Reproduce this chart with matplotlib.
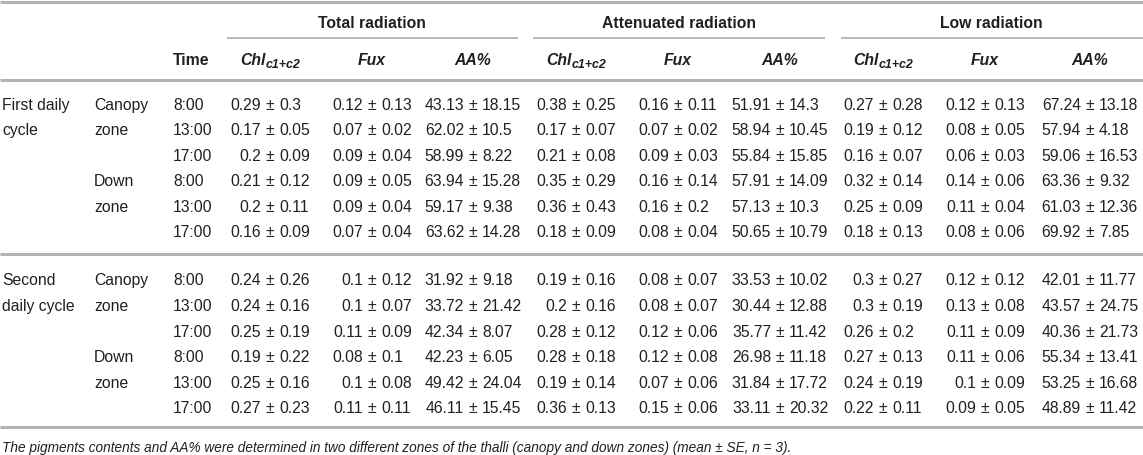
import matplotlib
matplotlib.use("Agg")
import matplotlib.pyplot as plt
from matplotlib.lines import Line2D

plt.rcParams['font.family'] = ['Liberation Sans', 'DejaVu Sans']

# ---------------- data ----------------
cycles = ["First daily\ncycle", "Second\ndaily cycle"]
zones = ["Canopy\nzone", "Down\nzone"]
times = ["8:00", "13:00", "17:00"]
groups = ["Total radiation", "Attenuated radiation", "Low radiation"]
variables = ["Chl", "Fux", "AA%"]

# rows: cycle1-canopy(8,13,17), cycle1-down, cycle2-canopy, cycle2-down
total_chl_mean = [0.29, 0.17, 0.2, 0.21, 0.2, 0.16, 0.24, 0.24, 0.25, 0.19, 0.25, 0.27]
total_chl_se = [0.3, 0.05, 0.09, 0.12, 0.11, 0.09, 0.26, 0.16, 0.19, 0.22, 0.16, 0.23]
total_fux_mean = [0.12, 0.07, 0.09, 0.09, 0.09, 0.07, 0.1, 0.1, 0.11, 0.08, 0.1, 0.11]
total_fux_se = [0.13, 0.02, 0.04, 0.05, 0.04, 0.04, 0.12, 0.07, 0.09, 0.1, 0.08, 0.11]
total_aa_mean = [43.13, 62.02, 58.99, 63.94, 59.17, 63.62, 31.92, 33.72, 42.34, 42.23, 49.42, 46.11]
total_aa_se = [18.15, 10.5, 8.22, 15.28, 9.38, 14.28, 9.18, 21.42, 8.07, 6.05, 24.04, 15.45]

att_chl_mean = [0.38, 0.17, 0.21, 0.35, 0.36, 0.18, 0.19, 0.2, 0.28, 0.28, 0.19, 0.36]
att_chl_se = [0.25, 0.07, 0.08, 0.29, 0.43, 0.09, 0.16, 0.16, 0.12, 0.18, 0.14, 0.13]
att_fux_mean = [0.16, 0.07, 0.09, 0.16, 0.16, 0.08, 0.08, 0.08, 0.12, 0.12, 0.07, 0.15]
att_fux_se = [0.11, 0.02, 0.03, 0.14, 0.2, 0.04, 0.07, 0.07, 0.06, 0.08, 0.06, 0.06]
att_aa_mean = [51.91, 58.94, 55.84, 57.91, 57.13, 50.65, 33.53, 30.44, 35.77, 26.98, 31.84, 33.11]
att_aa_se = [14.3, 10.45, 15.85, 14.09, 10.3, 10.79, 10.02, 12.88, 11.42, 11.18, 17.72, 20.32]

low_chl_mean = [0.27, 0.19, 0.16, 0.32, 0.25, 0.18, 0.3, 0.3, 0.26, 0.27, 0.24, 0.22]
low_chl_se = [0.28, 0.12, 0.07, 0.14, 0.09, 0.13, 0.27, 0.19, 0.2, 0.13, 0.19, 0.11]
low_fux_mean = [0.12, 0.08, 0.06, 0.14, 0.11, 0.08, 0.12, 0.13, 0.11, 0.11, 0.1, 0.09]
low_fux_se = [0.13, 0.05, 0.03, 0.06, 0.04, 0.06, 0.12, 0.08, 0.09, 0.06, 0.09, 0.05]
low_aa_mean = [67.24, 57.94, 59.06, 63.36, 61.03, 69.92, 42.01, 43.57, 40.36, 55.34, 53.25, 48.89]
low_aa_se = [13.18, 4.18, 16.53, 9.32, 12.36, 7.85, 11.77, 24.75, 21.73, 13.41, 16.68, 11.42]

caption = ("The pigments contents and AA% were determined in two different zones of the "
           "thalli (canopy and down zones) (mean \u00b1 SE, n = 3).")

columns = [
    (total_chl_mean, total_chl_se), (total_fux_mean, total_fux_se), (total_aa_mean, total_aa_se),
    (att_chl_mean, att_chl_se), (att_fux_mean, att_fux_se), (att_aa_mean, att_aa_se),
    (low_chl_mean, low_chl_se), (low_fux_mean, low_fux_se), (low_aa_mean, low_aa_se),
]

# ---------------- layout (pixels) ----------------
W, H = 1143, 456
fig = plt.figure(figsize=(W / 100, H / 100), dpi=100)
ax = fig.add_axes([0, 0, 1, 1])
ax.set_xlim(0, W)
ax.set_ylim(H, 0)
ax.axis('off')

TXT = '#231f20'
LINE = '#b3b3b3'
FS = 11.3        # main font size, pt
FS_SUB = 8.9
FS_CAP = 9.8

pm_x = [270, 372, 473, 576, 678, 780, 883, 985, 1090]
group_spans = [(227, 518), (533, 825), (841, 1143)]
group_centers = [372, 679, 991]
x_cycle, x_zone, x_time = 2, 94, 173

y_group, y_uline, y_head, y_headline = 22, 39, 59, 81
row_y = [104 + 25.5 * i for i in range(6)] + [279.5 + 25.6 * i for i in range(6)]
y_top, y_mid, y_bot, y_cap = 3, 255, 428, 447

def hline(y, x0, x1, lw, color=LINE):
    ax.add_line(Line2D([x0, x1], [y, y], lw=lw, color=color, solid_capstyle='butt'))

hline(y_top, 0, W, 2.2)
hline(y_headline, 0, W, 2.2)
hline(y_mid, 0, W, 2.2)
hline(y_bot, 0, W, 2.2)
for (x0, x1) in group_spans:
    hline(y_uline, x0, x1, 1.3)

# group headers
for g, xc in zip(groups, group_centers):
    ax.text(xc, y_group, g, ha='center', va='center_baseline',
            fontsize=FS, fontweight='bold', color=TXT)

# column headers
ax.text(x_time, y_head, "Time", ha='left', va='center_baseline', fontsize=FS,
        fontweight='bold', color=TXT)
fig.canvas.draw()
renderer = fig.canvas.get_renderer()

def width_px(t):
    return t.get_window_extent(renderer=renderer).width

for ci, x in enumerate(pm_x):
    v = variables[ci % 3]
    if v == "Chl":
        t1 = ax.text(0, y_head, "Chl", ha='left', va='center_baseline', fontsize=FS,
                     fontweight='bold', fontstyle='italic', color=TXT)
        t2 = ax.text(0, y_head + 5, "c1+c2", ha='left', va='center_baseline', fontsize=FS_SUB,
                     fontweight='bold', fontstyle='italic', color=TXT)
        w1, w2 = width_px(t1), width_px(t2)
        x0 = x - (w1 + w2) / 2
        t1.set_x(x0)
        t2.set_x(x0 + w1 + 0.5)
    else:
        ax.text(x, y_head, v, ha='center', va='center_baseline', fontsize=FS,
                fontweight='bold', fontstyle='italic', color=TXT)

# row labels
for b in range(2):
    base = b * 6
    c1, c2 = cycles[b].split("\n")
    ax.text(x_cycle, row_y[base], c1, ha='left', va='center_baseline', fontsize=FS, color=TXT)
    ax.text(x_cycle, row_y[base + 1], c2, ha='left', va='center_baseline', fontsize=FS, color=TXT)
    for z in range(2):
        r = base + 3 * z
        a, bb = zones[z].split("\n")
        ax.text(x_zone, row_y[r], a, ha='left', va='center_baseline', fontsize=FS, color=TXT)
        ax.text(x_zone, row_y[r + 1], bb, ha='left', va='center_baseline', fontsize=FS, color=TXT)
        for k in range(3):
            ax.text(x_time, row_y[r + k], times[k], ha='left', va='center_baseline',
                    fontsize=FS, color=TXT)

GAP = 9.0
for ci, (means, ses) in enumerate(columns):
    x = pm_x[ci]
    for ri, (m, s) in enumerate(zip(means, ses)):
        y = row_y[ri]
        ax.text(x - GAP, y, f"{m:g}", ha='right', va='center_baseline', fontsize=FS, color=TXT)
        ax.text(x, y, "\u00b1", ha='center', va='center_baseline', fontsize=FS, color=TXT)
        ax.text(x + GAP, y, f"{s:g}", ha='left', va='center_baseline', fontsize=FS, color=TXT)

ax.text(x_cycle, y_cap, caption, ha='left', va='center_baseline', fontsize=FS_CAP,
        fontstyle='italic', color=TXT)

fig.savefig("out.png", dpi=100)
